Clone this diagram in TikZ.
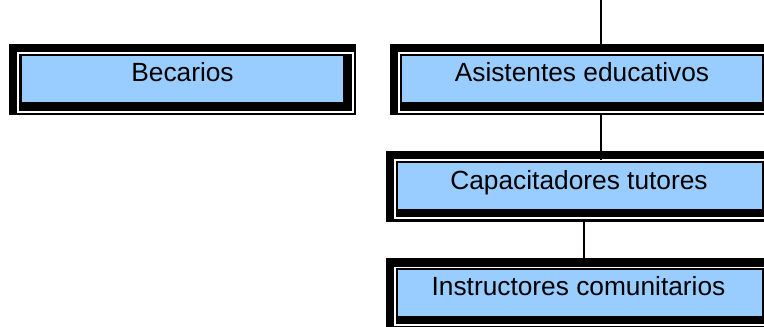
\documentclass[tikz,border=0pt]{standalone}
\usepackage{fontspec}
\setmainfont{Liberation Sans}
\begin{document}
\begin{tikzpicture}[x=1pt,y=-1pt,
  outerbox/.style={fill=black, draw=none, inner sep=0pt, outer sep=0pt, anchor=north west},
  whitebox/.style={draw=white, line width=1.2pt, fill=none, inner sep=0pt, outer sep=0pt, anchor=north west},
  bluebox/.style={fill={rgb,255:red,153;green,204;blue,255}, draw=none, inner sep=0pt, outer sep=0pt, anchor=north west},
  boxtext/.style={font=\fontsize{26.3}{30}\selectfont, inner sep=0pt, anchor=base, text=black},
  conn/.style={draw=black, line width=1.6pt}]
\useasboundingbox (0,0) rectangle (764,327);
% Becarios
\node[outerbox, minimum width=347pt, minimum height=71pt] (Bo) at (9,44) {};
\node[whitebox, minimum width=335pt, minimum height=59pt] (Bw) at (18,53) {};
\node[bluebox, minimum width=321pt, minimum height=46.2pt] (B) at (22,55.5) {};
\node[boxtext] (Bt) at (182.5,81) {Becarios};
% Asistentes educativos
\node[outerbox, minimum width=390pt, minimum height=70.5pt] (Ao) at (390,44) {};
\node[whitebox, minimum width=375pt, minimum height=59pt] (Aw) at (399,53) {};
\node[bluebox, minimum width=360pt, minimum height=45.7pt] (A) at (402,56) {};
\node[boxtext] (At) at (582,81) {Asistentes educativos};
% Capacitadores tutores
\node[outerbox, minimum width=394pt, minimum height=70.7pt] (Co) at (386,151) {};
\node[whitebox, minimum width=380pt, minimum height=58pt] (Cw) at (395,160) {};
\node[bluebox, minimum width=364pt, minimum height=46.3pt] (C) at (397.5,162.7) {};
\node[boxtext] (Ct) at (579,189.3) {Capacitadores tutores};
% Instructores comunitarios
\node[outerbox, minimum width=394pt, minimum height=75pt] (Io) at (386,258.3) {};
\node[whitebox, minimum width=380pt, minimum height=57.7pt] (Iw) at (395,267.3) {};
\node[bluebox, minimum width=364pt, minimum height=46pt] (I) at (398,270) {};
\node[boxtext] (It) at (578.5,295.3) {Instructores comunitarios};
% connectors
\coordinate (top) at (600.7,0);
\coordinate (xa) at (600.7,0);
\coordinate (xc) at (584,0);
\draw[conn] (top) -- (top |- Ao.north);
\draw[conn] (Ao.south -| xa) -- (Cw.north -| xa);
\draw[conn] (Co.south -| xc) -- (Io.north -| xc);
\end{tikzpicture}
\end{document}
